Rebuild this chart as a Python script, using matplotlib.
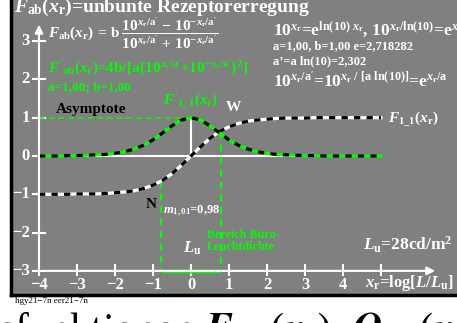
import matplotlib
matplotlib.use("Agg")
import matplotlib.pyplot as plt

# values
x_r = [-4.0, -3.75, -3.5, -3.25, -3.0, -2.75, -2.5, -2.25, -2.0, -1.75, -1.5,
       -1.25, -1.0, -0.75, -0.5, -0.25, 0.0, 0.25, 0.5, 0.75, 1.0, 1.25, 1.5,
       1.75, 2.0, 2.25, 2.5, 2.75, 3.0, 3.25, 3.5, 3.75, 4.0, 4.25, 4.5, 4.75, 5.0]
f_ab = [-1.00, -1.00, -1.00, -1.00, -0.99, -0.99, -0.99, -0.98, -0.96, -0.94, -0.91,
        -0.85, -0.76, -0.64, -0.46, -0.24, 0.00, 0.24, 0.46, 0.64, 0.76, 0.85, 0.91,
        0.94, 0.96, 0.98, 0.99, 0.99, 0.99, 1.00, 1.00, 1.00, 1.00, 1.00, 1.00, 1.00, 1.00]
f_ab_deriv = [0.00, 0.00, 0.00, 0.01, 0.01, 0.02, 0.03, 0.04, 0.07, 0.11, 0.18,
              0.28, 0.42, 0.60, 0.79, 0.94, 1.00, 0.94, 0.79, 0.60, 0.42, 0.28, 0.18,
              0.11, 0.07, 0.04, 0.03, 0.02, 0.01, 0.01, 0.00, 0.00, 0.00, 0.00, 0.00, 0.00, 0.00]

x_ticks = [-4, -3, -2, -1, 0, 1, 2, 3, 4, 5]
x_tick_labels = ['\u22124', '\u22123', '\u22122', '\u22121', '0', '1', '2', '3', '4', '']
y_ticks = [-3, -2, -1, 0, 1, 2, 3]
y_tick_labels = ['\u22123', '\u22122', '\u22121', '0', '1', '2', '3']

office_x = [-0.8, 0.78]          # Bereich Buero-Leuchtdichte
office_top = [-0.66, 0.62]       # where the dashed markers start

GRAY = '#808080'
GREEN = '#00ff00'

plt.rcParams['font.family'] = ['Liberation Serif', 'DejaVu Serif']
plt.rcParams['font.weight'] = 'bold'
plt.rcParams['mathtext.fontset'] = 'custom'
plt.rcParams['mathtext.rm'] = 'Liberation Serif:bold'
plt.rcParams['mathtext.it'] = 'Liberation Serif:italic:bold'
plt.rcParams['mathtext.bf'] = 'Liberation Serif:bold'
plt.rcParams['lines.scale_dashes'] = False

fig = plt.figure(figsize=(4.57, 3.23), dpi=100)
ax = fig.add_axes([11 / 457, 28 / 323, 446 / 457, 295 / 323])
ax.set_facecolor(GRAY)
ax.set_xlim(-4.737, 7.0)
ax.set_ylim(-3.63, 4.073)
ax.set_xticks([])
ax.set_yticks([])
for s in ['top', 'right']:
    ax.spines[s].set_visible(False)
for s in ['left', 'bottom']:
    ax.spines[s].set_color('black')
    ax.spines[s].set_linewidth(2.5)

# axes with arrows
ax.annotate('', xy=(6.5, -3), xytext=(-4, -3),
            arrowprops=dict(arrowstyle='-|>', color='white', lw=1.5, mutation_scale=12))
ax.annotate('', xy=(-4, 3.5), xytext=(-4, -3),
            arrowprops=dict(arrowstyle='-|>', color='white', lw=1.5, mutation_scale=12))
for xt, lab in zip(x_ticks, x_tick_labels):
    ax.plot([xt, xt], [-3.12, -2.84], color='white', lw=1.5)
    ax.text(xt, -3.37, lab, color='white', fontsize=12, ha='center', va='center')
for yt, lab in zip(y_ticks, y_tick_labels):
    ax.plot([-4.15, -3.85], [yt, yt], color='white', lw=1.5)
    ax.text(-4.25, yt, lab, color='white', fontsize=12, ha='right', va='center')

# helper lines
ax.plot([-4, 5], [0, 0], color='white', lw=1.5)
ax.plot([0, 0], [0, 1], color='white', lw=1.5)
ax.plot([-4, 0], [1, 1], color=GREEN, lw=1.2, dashes=(4, 3))
for xv, yv in zip(office_x, office_top):
    ax.plot([xv, xv], [yv, -3], color=GREEN, lw=1.6, dashes=(5, 4))
ax.plot(office_x, [-3, -3], color=GREEN, lw=2.5, solid_capstyle='butt')

# curves
ax.plot(x_r, f_ab, color='white', lw=2.3)
ax.plot(x_r, f_ab, color='black', lw=2.3, dashes=(4.5, 4.5))
ax.plot(x_r, f_ab_deriv, color=GREEN, lw=2.3)
ax.plot(x_r, f_ab_deriv, color='black', lw=2.3, dashes=(4.5, 4.5))

# texts
ax.text(-4.66, 3.75, r'$F_{\rm ab}(x_{\rm r})$=unbunte Rezeptorerregung',
        color='white', fontsize=14, va='baseline')
ax.text(-3.76, 3.2,
        r"$F_{\rm ab}(x_{\rm r})\,=\,{\rm b}\;\dfrac{10^{x_{\rm r}/{\rm a}'}\,-\,10^{-x_{\rm r}/{\rm a}'}}{10^{x_{\rm r}/{\rm a}'}\,+\,10^{-x_{\rm r}/{\rm a}'}}$",
        color='white', fontsize=11, va='center')
ax.text(-3.76, 2.19,
        r"$F'_{\rm ab}(x_{\rm r})$=4b/[a{$10^{x_{\rm r}/{\rm a}'}$+$10^{-x_{\rm r}/{\rm a}'}$}$^2$]",
        color=GREEN, fontsize=11, va='baseline')
ax.text(-3.76, 1.72, 'a=1,00; b=1,00', color=GREEN, fontsize=9.5, va='baseline')
ax.text(-3.55, 1.12, 'Asymptote', color='black', fontsize=11, va='baseline')
ax.text(-0.74, 1.33, r"$F'_{\rm 1\_1}(x_{\rm r})$", color=GREEN, fontsize=11, va='baseline')
ax.text(0.92, 1.17, 'W', color='white', fontsize=11, va='baseline')
ax.text(5.18, 0.89, r'$F_{\rm 1\_1}(x_{\rm r})$', color='white', fontsize=11, va='baseline')
ax.text(-1.2, -1.36, 'N', color='black', fontsize=11, va='baseline')
ax.text(-0.74, -1.51, r'$m_{\rm 1,01}$=0,98', color='white', fontsize=9, va='baseline')
ax.text(-0.2, -2.53, r'$L_{\rm u}$', color='white', fontsize=12, va='baseline')
ax.text(0.42, -2.45, 'Bereich B\u00fcro-\nLeuchtdichte', color=GREEN, fontsize=8.7,
        va='baseline', linespacing=0.95)
ax.text(4.52, -2.45, r'$L_{\rm u}$=28cd/m$^2$', color='white', fontsize=12.5, va='baseline')
ax.text(4.58, -3.42, r'$x_{\rm r}$=log[$L/L_{\rm u}$]', color='white', fontsize=12,
        va='baseline')

ax.text(2.15, 3.16,
        r'$10^{x_{\rm r}}$=e$^{\ln(10)\ x_{\rm r}}$, $10^{x_{\rm r}/\ln(10)}$=e$^{x_{\rm r}}$',
        color='white', fontsize=12.5, va='baseline')
ax.text(2.15, 2.79, 'a=1,00, b=1,00 e=2,718282', color='white', fontsize=9, va='baseline')
ax.text(2.15, 2.4, "a\u2019=a ln(10)=2,302", color='white', fontsize=9, va='baseline')
ax.text(2.15, 1.8,
        r"$10^{x_{\rm r}/{\rm a}'}$=$10^{x_{\rm r}\ /\ [{\rm a}\ \ln(10)]}$=e$^{x_{\rm r}/{\rm a}}$",
        color='white', fontsize=12.5, va='baseline')

fig.text(15 / 457, 1 - 303 / 323, 'hgy21\u22127n eer21\u22127n', fontsize=6.5,
         fontweight='normal', va='baseline')
fig.text(-2 / 457, 1 - 342 / 323,
         r'sfunktionen $F_{ab}\,(x_r)$, $Q_{ab}\,(x_r)$ & $P_{ab}\,(L$',
         fontsize=30, fontweight='normal', math_fontfamily='stix', va='baseline')

fig.savefig('out.png', dpi=100, facecolor='white')
